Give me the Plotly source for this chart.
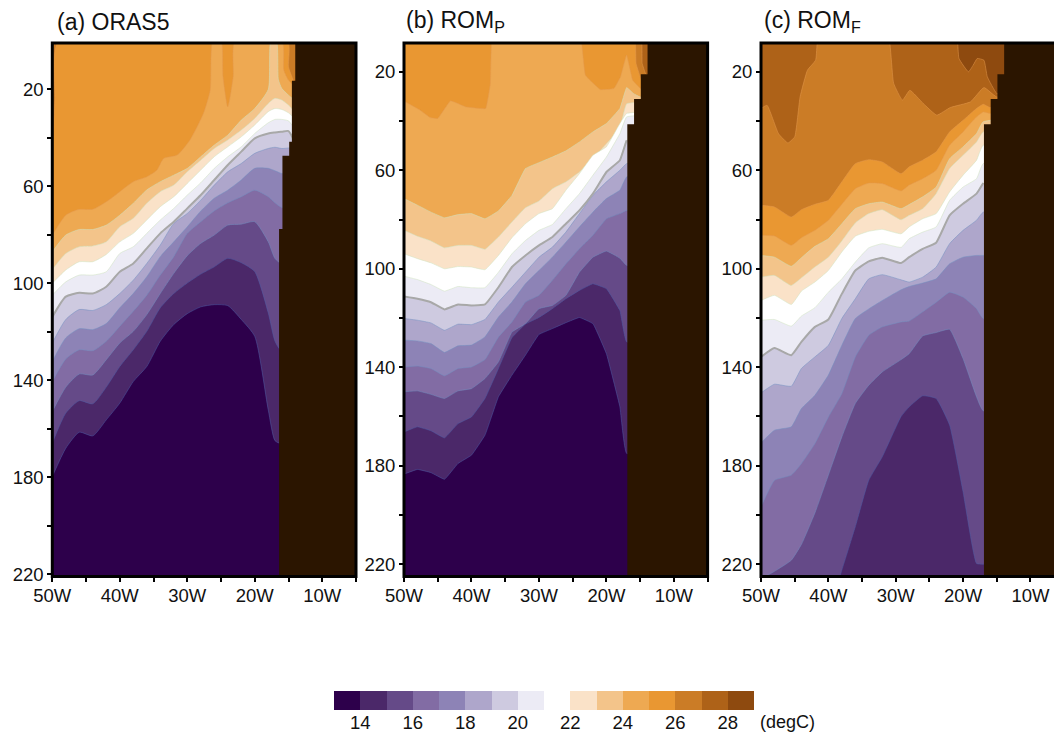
import plotly.graph_objects as go

W, H = 1054, 736

# ---------- colour bands (one per 1 degC) ----------
BAND_MID = [13.5 + i for i in range(16)]
BAND_COLORS = ["#2d004b", "#4b2869", "#654a88", "#826ca4", "#8d83b6", "#aea6cb", "#cecae0", "#ecebf5",
               "#ffffff", "#fae2c8", "#f3c48a", "#eea952", "#e99732", "#cb7c26", "#ae6218", "#8e4a0f"]
CB_TICKS = [14, 16, 18, 20, 22, 24, 26, 28]
LAND_COLOR = "#2b1500"

LON_TICKS = [-50, -40, -30, -20, -10]
LON_LABELS = ["50W", "40W", "30W", "20W", "10W"]
LON_MINOR = [-45, -35, -25, -15, -5]
DEPTH_TICKS = [20, 60, 100, 140, 180, 220]
DEPTH_LABELS = ["20", "60", "100", "140", "180", "220"]
DEPTH_MINOR = [40, 80, 120, 160, 200]

# ---------- panel (a) ORAS5: isotherm depths (m) ----------
A_LON = [-50, -48, -46, -44, -42, -40, -38, -36, -34, -32, -30, -28, -26, -24, -22, -20, -18, -17, -16]
A_LON_E = A_LON + [-15, -14]
A_T14 = [179.8, 168.1, 161.5, 163, 156.4, 149.5, 140.6, 134.4, 124, 117.1, 112.6, 109.8, 108.9, 109.3, 115, 122, 152.3, 165, 166.3]
A_T15 = [166, 153.6, 148.5, 149.8, 142.9, 134.4, 127.5, 119.9, 110.2, 104.3, 100, 96.3, 93.3, 89.8, 91.6, 95.3, 112.3, 124, 128]
A_T16 = [153, 142.9, 137.5, 137.9, 131.6, 124.7, 119.9, 113, 104.3, 96, 88.7, 83.6, 80.2, 76.1, 75.7, 74.7, 83, 89.9, 92]
A_T17 = [140.6, 131.3, 127.5, 127.9, 124, 117.8, 111.6, 105, 96.7, 89.1, 79.5, 74.7, 70.2, 66.9, 64.4, 61.7, 64.4, 66.9, 68.8]
A_T18 = [132.3, 122.6, 118.8, 119.2, 116.7, 110.2, 104.3, 97.4, 89.1, 83, 76.8, 70.3, 65, 61.7, 57.5, 52.7, 52.7, 53.7, 54.8]
A_T19 = [124.7, 115, 110.9, 111.3, 108.9, 104.3, 98.8, 91.9, 84.3, 75.4, 71.3, 65.8, 59.6, 54.1, 50.7, 46.5, 44.5, 44, 44.5]
A_T20 = [114, 105.6, 104, 104.3, 101.5, 95.3, 91.9, 85.7, 79.5, 74.7, 69.2, 63.7, 57.5, 51.3, 45.8, 40.3, 38.3, 37.9, 37.6, 37.3, 42.4]
A_T21 = [105, 99.5, 96.7, 96.7, 95.3, 87.8, 85, 79.5, 74, 69.2, 63.7, 58.6, 52.7, 47.9, 43.8, 38.3, 33.9, 32.5, 32.5, 33.1, 36.2]
A_T22 = [100.1, 94.6, 91.2, 91.2, 88.2, 83, 79.5, 74, 68.5, 64.4, 58.9, 53.4, 47.9, 43.8, 39.7, 34.8, 29.3, 28, 28.4, 29.8, 32.1]
A_T23 = [94.4, 87.8, 85, 84.7, 83, 76.8, 73.3, 67.1, 62.3, 59.6, 54.1, 49.3, 44.5, 41, 36.9, 32.1, 25.9, 23.8, 24.5, 26.6, 29.3]
A_T24_LON = [-50, -48, -46, -44, -42, -40, -38, -36, -34, -32, -30, -28, -26, -24, -22, -20, -18, -17.6, -16.8, -16.5, -16, -15, -14]
A_T24 = [87.1, 80.2, 77.9, 77.9, 76.1, 72, 67.1, 61.6, 58.2, 55.5, 52.7, 47.9, 43.1, 39, 32.8, 28, 20.1, 0, 0, 16, 19.7, 22.5, 24.5]
A_T25_LON = [-50, -48, -46, -44, -42, -40, -38, -36, -34.5, -33.5, -31.5, -29.6, -27.6, -26.6, -26.2, -25, -24.7, -24, -23.2, -22.9, -16, -15.7, -15, -14]
A_T25 = [80.2, 72, 69.6, 69.6, 66.5, 62.3, 58.2, 56.2, 53.4, 48.6, 47.2, 41, 30, 20.4, 0, 0, 14.9, 27.3, 14.9, 0, 0, 12.2, 16.3, 18.8]
A_T26_LON = [-50, -49.6, -49, -15.2, -15, -14.3, -14]
A_T26 = [49.3, 24.5, 0, 0, 10.8, 16.3, 18.4]
A_TOP_LON = [-50, -5]
A_TOP = [0, 0]
A_LAND_LON = [-14, -14, -14.5, -14.5, -14.9, -14.9, -15.9, -15.9, -16.4, -16.4, -5, -5]
A_LAND_DEPTH = [0, 16.6, 16.6, 41.7, 41.7, 47.5, 47.5, 77.7, 77.7, 225, 225, 0]

# ---------- panel (b) ROM_P ----------
B_LON = [-50, -48, -46, -44, -42, -40, -38, -36, -34, -32, -30, -28, -26, -24, -22, -20, -18, -17]
B_T14 = [183.4, 181.5, 182.8, 185.5, 179.1, 175.7, 167.6, 152, 143.2, 135.1, 126.7, 124.3, 121.9, 119.8, 122.3, 134.5, 156.1, 175]
B_T15 = [166.3, 164.2, 165.8, 168.7, 162.9, 160.2, 152.7, 140.5, 128, 122.5, 119.8, 116.2, 112.2, 108.8, 106.1, 108.1, 117, 129.7]
B_T16 = [150, 149.6, 151, 152.7, 149.6, 148.7, 144.6, 137.8, 125.7, 122.3, 116.2, 114.9, 110.8, 101.4, 95.3, 92.8, 95.7, 98.6]
B_T17 = [139.9, 139.5, 140.5, 143.5, 140.5, 139.9, 136.9, 127.7, 121.6, 113.5, 110.8, 104.7, 98, 91.9, 86.4, 79.7, 77.6, 76.3]
B_T18 = [129, 129.3, 130.4, 134, 131.3, 131, 127.7, 119.6, 113.5, 106.1, 100.7, 95.3, 89.2, 83, 77, 71.5, 68.1, 62.7]
B_T19 = [120.2, 120.9, 122, 125, 122.5, 122.7, 120.6, 113.5, 107.5, 101.4, 95.3, 91.2, 85.1, 77.6, 70.2, 64.7, 60, 57.3]
B_T20 = [111.3, 112.2, 113.6, 116.5, 114.5, 114.9, 114.5, 107.5, 99.3, 94.6, 90.5, 87.1, 81.7, 76.3, 69.5, 60.7, 55.9, 47.8]
B_T21 = [103, 104.4, 106.4, 109.1, 107.2, 107.7, 107.7, 101.4, 93.9, 88.5, 84.4, 82, 75.6, 69.5, 62, 54.6, 45.1, 38.3]
B_T22 = [93.9, 95.9, 97.6, 100, 99.1, 99.3, 100.4, 94.6, 87.4, 81.7, 77.6, 75.6, 68.1, 61.4, 53.9, 50.5, 41, 36.9]
B_T23 = [84.4, 86.8, 88.7, 91.5, 90.5, 90.5, 92.1, 87.1, 81, 75.2, 72.5, 67.5, 64.7, 60.7, 55.3, 49.2, 43.1, 33]
B_T24_LON = B_LON + [-16, -15]
B_T24 = [71.5, 74.2, 77, 79.3, 78, 77.6, 79.7, 76.5, 70.2, 59.3, 56.9, 54.6, 52.1, 48.5, 44.4, 41, 34.9, 26.4, 28.8, 30.2]
B_T25_LON = [-50, -47.6, -46.1, -45, -43.1, -40.9, -37.9, -37.2, -36.7, -24.2, -23.1, -20.9, -18.9, -17.9, -17, -16.1, -14.9]
B_T25 = [31.9, 35.6, 38.6, 39, 31.8, 34.2, 34.9, 24.7, 0, 0, 21.4, 27.2, 26.8, 22, 13.2, 23.4, 26.8]
B_T26_LON = [-50, -16, -15.6, -14.8, -13.9]
B_T26 = [0, 0, 16.6, 23.4, 24.7]
B_T27_LON = [-50, -15, -14.7, -14.2, -13.9]
B_T27 = [0, 0, 16.6, 20.7, 21.4]
B_TOP_LON = [-50, -5]
B_TOP = [0, 0]
B_LAND_LON = [-13.9, -13.9, -14.9, -14.9, -15.9, -15.9, -16.9, -16.9, -5, -5]
B_LAND_DEPTH = [0, 21, 21, 31, 31, 41.3, 41.3, 230, 230, 0]

# ---------- panel (c) ROM_F ----------
C_LON = [-50, -48, -45.5, -44, -42, -40, -38, -36, -34, -32, -29.2, -28, -26, -24, -22, -20, -18, -17]
C_T15 = [240, 240, 240, 240, 240, 240, 222.4, 204.8, 185.9, 176.4, 160, 156.1, 151.6, 152.7, 163.5, 190.6, 219.7, 220]
C_T16 = [226, 222.9, 218.4, 212, 199.2, 183.8, 168.3, 154.7, 147.3, 141.9, 136.9, 134.5, 127.3, 125.9, 124.6, 136.5, 152, 157.7]
C_T17 = [196.7, 185.9, 183.8, 179.1, 171, 160.2, 150.7, 135.8, 127, 123.6, 121.6, 121.2, 117.5, 113.6, 109.5, 111.5, 116.2, 120.2]
C_T18 = [170.7, 165.6, 164.2, 156.8, 151.4, 143.2, 131.1, 120.2, 116.3, 112.9, 108.5, 107.2, 105.8, 104.1, 98, 95.3, 94.6, 94.6]
C_T19 = [150.4, 146.9, 147.7, 140.5, 135.8, 131.1, 120.2, 112.2, 104.1, 102.4, 104.5, 105.4, 103.4, 99.3, 89.8, 84.4, 80.3, 77]
C_T20 = [135.8, 132.2, 135.1, 129.7, 123.6, 120.6, 110.2, 100.7, 97, 95.5, 97.7, 95.3, 91.9, 89.4, 78.3, 73.6, 69.5, 65.2]
C_T21 = [120.9, 120.6, 123.3, 119.2, 115.8, 109.5, 104.1, 97.3, 91.5, 89.8, 91.3, 87.8, 85.1, 83, 72.2, 66.8, 63.4, 57.3]
C_T22 = [112.9, 110.8, 114.5, 109.1, 105.4, 100.7, 93.2, 86.8, 84.8, 84, 85.8, 83, 79.7, 77.6, 68.8, 62, 55.9, 49.8]
C_T23 = [103.4, 102.7, 106.8, 103.7, 99.3, 95.3, 88.7, 81.4, 77.6, 76, 80.1, 78.3, 75.6, 69.5, 59.3, 53.9, 48.5, 44.4]
C_T24 = [94.6, 95.3, 99, 95.5, 90.9, 87.8, 81.7, 75.6, 73.6, 72.9, 75.6, 73.9, 70.8, 66.8, 55.3, 50.5, 45.1, 40.3]
C_T25_LON = C_LON + [-16]
C_T25 = [86.4, 86.7, 90.5, 87.4, 84.4, 80.3, 73.8, 67.5, 65.2, 65.4, 68.4, 66, 63.4, 60, 49.8, 44.4, 38.3, 36.3, 36.9]
C_T26 = [74.2, 74.9, 79, 76, 73.8, 72.2, 64.7, 57.3, 55.7, 56.6, 61.4, 58.6, 55.9, 52.5, 44.4, 39.7, 34.9, 33.2, 34.5]
C_T27_LON = [-50, -49.1, -47.4, -46, -45, -44.2, -43.1, -41.9, -41.2, -31.5, -30.3, -29, -27.9, -25.9, -23.9, -21.9, -18.9, -16.9, -15]
C_T27 = [34.9, 33.6, 45.1, 48.9, 46.4, 30.2, 19.3, 15.3, 0, 0, 24.7, 31.5, 27.5, 32.9, 37.6, 34.5, 32.2, 26.4, 30.2]
C_T28_LON = [-50, -21.3, -20.6, -19.2, -18.5, -17.9, -16.9, -16.4, -15, -14.2]
C_T28 = [0, 0, 14.6, 20, 17.3, 14.6, 15.3, 22, 28.8, 28.8]
C_TOP_LON = [-50, -5]
C_TOP = [0, 0]
C_LAND_LON = [-13.9, -13.9, -14.9, -14.9, -15.9, -15.9, -16.9, -16.9, -5, -5]
C_LAND_DEPTH = [0, 21, 21, 31, 31, 41.3, 41.3, 230, 230, 0]

PANEL_A = [(27, A_TOP_LON, A_TOP), (26, A_T26_LON, A_T26), (25, A_T25_LON, A_T25), (24, A_T24_LON, A_T24),
           (23, A_LON_E, A_T23), (22, A_LON_E, A_T22), (21, A_LON_E, A_T21), (20, A_LON_E, A_T20),
           (19, A_LON, A_T19), (18, A_LON, A_T18), (17, A_LON, A_T17), (16, A_LON, A_T16),
           (15, A_LON, A_T15), (14, A_LON, A_T14)]
PANEL_B = [(28, B_TOP_LON, B_TOP), (27, B_T27_LON, B_T27), (26, B_T26_LON, B_T26), (25, B_T25_LON, B_T25),
           (24, B_T24_LON, B_T24), (23, B_LON, B_T23), (22, B_LON, B_T22), (21, B_LON, B_T21), (20, B_LON, B_T20),
           (19, B_LON, B_T19), (18, B_LON, B_T18), (17, B_LON, B_T17), (16, B_LON, B_T16),
           (15, B_LON, B_T15), (14, B_LON, B_T14)]
PANEL_C = [(29, C_TOP_LON, C_TOP), (28, C_T28_LON, C_T28), (27, C_T27_LON, C_T27), (26, C_T25_LON, C_T26),
           (25, C_T25_LON, C_T25), (24, C_LON, C_T24), (23, C_LON, C_T23), (22, C_LON, C_T22), (21, C_LON, C_T21),
           (20, C_LON, C_T20), (19, C_LON, C_T19), (18, C_LON, C_T18), (17, C_LON, C_T17), (16, C_LON, C_T16),
           (15, C_LON, C_T15)]

FONT = "Liberation Sans, Arial, sans-serif"
TXT = "#111111"
TICK_SIZE = 18.5


def edge_color(t):
    if t <= 15:
        return "#4f5fa6"
    if t <= 19:
        return "#7390c0"
    if t <= 24:
        return "#cfe3bf"
    return "#e59a50"


fig = go.Figure()


def add_panel(panel, land_lon, land_depth, xa, ya, x_left, x_right, bottom, smooth):
    line_shape = dict(shape="spline", smoothing=smooth)
    for t, lons, depths in panel:
        xs = list(lons) + [x_right, x_right, x_left]
        ys = list(depths) + [depths[-1], bottom, bottom]
        fig.add_trace(go.Scatter(x=xs, y=ys, xaxis=xa, yaxis=ya, mode="lines", fill="toself",
                                 fillcolor=BAND_COLORS[t - 14],
                                 line=dict(color=edge_color(t), width=0.5, **line_shape),
                                 hoverinfo="skip"))
    for t, lons, depths in panel:
        if t == 20:
            fig.add_trace(go.Scatter(x=list(lons), y=list(depths), xaxis=xa, yaxis=ya, mode="lines",
                                     line=dict(color="#a8a8a8", width=2, **line_shape), hoverinfo="skip"))
    fig.add_trace(go.Scatter(x=land_lon, y=land_depth, xaxis=xa, yaxis=ya, mode="lines", fill="toself",
                             fillcolor=LAND_COLOR, line=dict(color=LAND_COLOR, width=0), hoverinfo="skip"))


add_panel(PANEL_A, A_LAND_LON, A_LAND_DEPTH, "x", "y", -50, -5, 240, 0.6)
add_panel(PANEL_B, B_LAND_LON, B_LAND_DEPTH, "x2", "y2", -50, -5, 240, 0.25)
add_panel(PANEL_C, C_LAND_LON, C_LAND_DEPTH, "x3", "y3", -50, -5, 240, 0.4)

# colour bar as a row of unit bars on its own axis
fig.add_trace(go.Bar(x=BAND_MID, y=[1] * len(BAND_MID), width=1, marker=dict(color=BAND_COLORS, line=dict(width=0)),
                     xaxis="x4", yaxis="y4", hoverinfo="skip"))

TOP, BOTTOM = 43.0, 576.5
PANELS_PX = [(52.3, 356.0, [-50, -5], [221, 1]),
             (404.0, 707.6, [-50, -5], [225, 8.3]),
             (761.0, 1054.0, [-50, -6.5], [225, 8.3])]

layout = dict(template=None, width=W, height=H, autosize=False, margin=dict(l=0, r=0, t=0, b=0, pad=0),
              paper_bgcolor="white", plot_bgcolor="white", showlegend=False, hovermode=False,
              font=dict(family=FONT, size=TICK_SIZE, color=TXT), bargap=0)
shapes = []
for i, (l, r, xr, yr) in enumerate(PANELS_PX):
    s = "" if i == 0 else str(i + 1)
    tk = dict(ticks="outside", ticklen=4, tickwidth=2, tickcolor="black")
    layout["xaxis" + s] = dict(domain=[l / W, r / W], range=xr, tickmode="array", tickvals=LON_TICKS,
                               ticktext=LON_LABELS, minor=dict(tickvals=LON_MINOR, **tk), **tk,
                               showgrid=False, zeroline=False, showline=False, anchor="y" + s, automargin=False,
                               ticklabelstandoff=-2,
                               tickfont=dict(family=FONT, size=TICK_SIZE, color=TXT))
    layout["yaxis" + s] = dict(domain=[1 - BOTTOM / H, 1 - TOP / H], range=yr, tickmode="array", tickvals=DEPTH_TICKS,
                               ticktext=DEPTH_LABELS, minor=dict(tickvals=DEPTH_MINOR, **tk), **tk,
                               showgrid=False, zeroline=False, showline=False, anchor="x" + s, automargin=False,
                               tickfont=dict(family=FONT, size=TICK_SIZE, color=TXT))
    shapes.append(dict(type="rect", xref="paper", yref="paper", x0=l / W, x1=(r + (20 if i == 2 else 0)) / W,
                       y0=1 - BOTTOM / H, y1=1 - TOP / H, line=dict(color="black", width=3), layer="above"))

layout["xaxis4"] = dict(domain=[334 / W, 754 / W], range=[13, 29], tickmode="array", tickvals=CB_TICKS,
                        ticks="", showgrid=False, zeroline=False, showline=False, anchor="y4", automargin=False,
                        ticklabelstandoff=-1,
                        tickfont=dict(family=FONT, size=TICK_SIZE, color=TXT))
layout["yaxis4"] = dict(domain=[1 - 710 / H, 1 - 691 / H], range=[0, 1], showticklabels=False, ticks="",
                        showgrid=False, zeroline=False, showline=False, anchor="x4", automargin=False)
layout["shapes"] = shapes


def label(px, py, text, size, anchor="left"):
    return dict(x=px / W, y=1 - py / H, xref="paper", yref="paper", text=text, showarrow=False,
                xanchor=anchor, yanchor="middle", font=dict(family=FONT, size=size, color=TXT))


layout["annotations"] = [
    label(55, 22, "(a) ORAS5", 23),
    label(404, 22, "(b) ROM<sub>P</sub>", 23),
    label(762, 22, "(c) ROM<sub>F</sub>", 23),
    label(758, 722, "(degC)", 18),
]

fig.update_layout(**layout)
fig.write_html("out.html", config={"displayModeBar": False},
               post_script="document.body.style.margin='0';document.documentElement.style.overflow='hidden';")
